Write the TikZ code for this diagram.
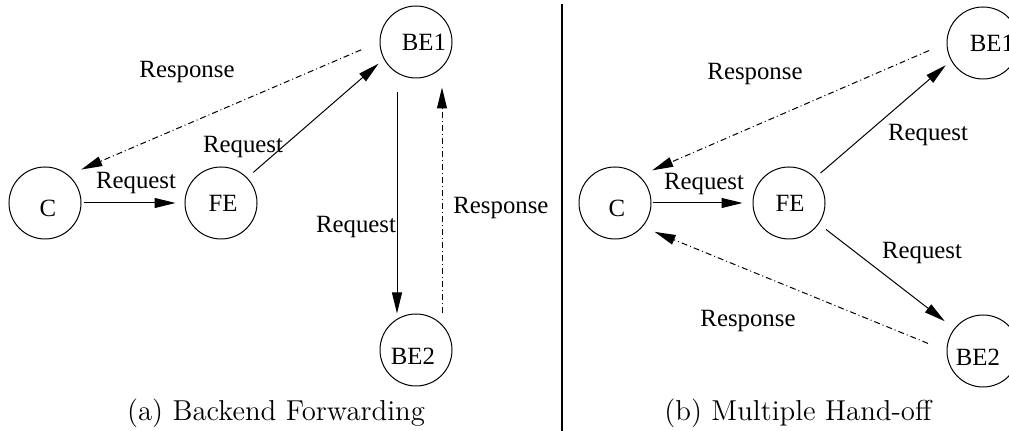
\documentclass[tikz,border=0pt]{standalone}
\usepackage{fontspec}
\newfontfamily\figfont{Liberation Serif}
\usetikzlibrary{arrows.meta}

\tikzset{
    host/.style={draw, circle, minimum size=36pt, inner sep=0pt, line width=0.5pt},
    msg/.style={font=\figfont\fontsize{12.4}{14}\selectfont, inner sep=0pt},
    req/.style={line width=0.5pt, -{Triangle[length=10.5pt,width=5pt]}},
    resp/.style={req, dash pattern=on 3pt off 1.5pt on 0.5pt off 1.5pt},
    subcap/.style={font=\fontsize{14.4}{17}\selectfont, inner sep=0pt},
}

\begin{document}
\begin{tikzpicture}[x=0.5pt, y=-0.5pt]
    \useasboundingbox (0,0) rectangle (1009,431);
    % (a) Backend Forwarding
    \begin{scope}
        \clip (0,0) rectangle (547,431);
        \node[host, label={[msg,xshift=1.5pt,yshift=-2.5pt]center:C}] (c1) at (45,203) {};
        \node[host, label={[msg,xshift=1pt]center:FE}] (fe1) at (221,203) {};
        \node[host, label={[msg,xshift=4pt]center:BE1}] (be1a) at (416,42) {};
        \node[host, label={[msg,xshift=-1.5pt,yshift=-3pt]center:BE2}] (be2a) at (416,350) {};

        \draw[req, shorten <=1pt, shorten >=4.5pt] (c1.east) -- (fe1.west);
        \draw[req, shorten <=4pt, shorten >=3.5pt] (fe1.44) -- (be1a.208);
        \draw[resp, shorten <=10pt, shorten >=7pt] (be1a.180) -- (c1.50);
        \draw[req, shorten <=7pt] ([xshift=-9.5pt]be1a.south) -- ([xshift=-9.5pt]be2a.north);
        \draw[resp, shorten >=4.5pt] ([xshift=13pt]be2a.north) -- ([xshift=13pt]be1a.south);

        \node[msg] (reqa1) at (136,183) {Request};
        \node[msg] (reqa2) at (243,147) {Request};
        \node[msg] (respa1) at (187,72) {Response};
        \node[msg] (reqa3) at (356,227) {Request};
        \node[msg, anchor=west] (respa2) at (453,208) {Response};
    \end{scope}
    \node[subcap] (capa) at (276,413) {(a) Backend Forwarding};

    % divider
    \draw[line width=1pt] (562,4) coordinate (divtop) -- (562,431) coordinate (divbot);

    % (b) Multiple Hand-off
    \begin{scope}
        \clip (563,0) rectangle (1009,431);
        \node[host, label={[msg,xshift=1pt,yshift=-2.5pt]center:C}] (c2) at (615,203) {};
        \node[host, label={[msg,xshift=0.5pt]center:FE}] (fe2) at (789,203) {};
        \node[host, label={[msg,xshift=4.5pt]center:BE1}] (be1b) at (983,43) {};
        \node[host, label={[msg,xshift=-2.5pt,yshift=-3pt]center:BE2}] (be2b) at (983,351) {};

        \draw[req, shorten <=0.5pt, shorten >=5pt] (c2.east) -- (fe2.west);
        \draw[req, shorten <=3.5pt, shorten >=3.5pt] (fe2.44) -- (be1b.209);
        \draw[req, shorten <=4.5pt, shorten >=6pt] (fe2.325) -- (be2b.142);
        \draw[resp, shorten <=9.5pt, shorten >=7pt] (be1b.180) -- (c2.48);
        \draw[resp, shorten <=10pt, shorten >=6.5pt] (be2b.180) -- (c2.319);

        \node[msg] (reqb1) at (704,184) {Request};
        \node[msg] (reqb2) at (928,135) {Request};
        \node[msg] (reqb3) at (922,253) {Request};
        \node[msg] (respb1) at (755,74) {Response};
        \node[msg] (respb2) at (748,321) {Response};
    \end{scope}
    \node[subcap] (capb) at (798,413) {(b) Multiple Hand-off};
\end{tikzpicture}
\end{document}
